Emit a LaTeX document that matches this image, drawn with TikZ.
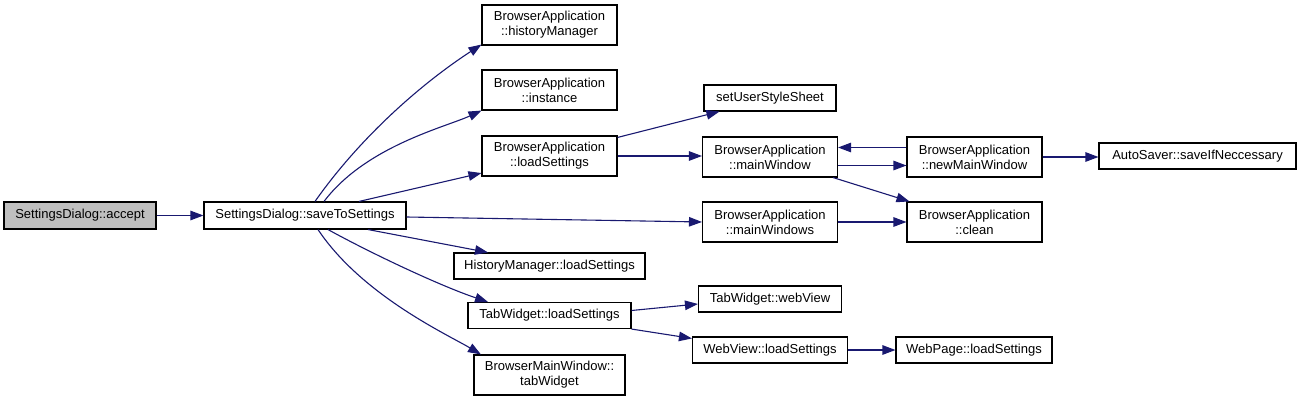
\documentclass[tikz,border=0pt]{standalone}
\usepackage{fontspec}
\setmainfont{Liberation Sans}
\usetikzlibrary{arrows.meta}
\definecolor{edgeblue}{HTML}{191970}
\definecolor{focusgray}{HTML}{BFBFBF}
\begin{document}
\begin{tikzpicture}[x=1pt,y=-1pt,
  box/.style={draw=black,line width=1.1pt,fill=white,inner sep=0pt,align=center,
    font=\fontsize{13}{15}\selectfont},
  onebox/.style={box,minimum height=26pt},
  twobox/.style={box,minimum height=40pt,minimum width=135pt},
  edge/.style={draw=edgeblue,line width=1.1pt,-{Triangle[length=13pt,width=9.5pt]}}]
\useasboundingbox (0,0) rectangle (1300,401);
% nodes
\node[onebox,fill=focusgray,minimum width=152pt,minimum height=27pt] (acc) at (80,215.5) {SettingsDialog::accept};
\node[onebox,minimum width=202pt,minimum height=27pt] (save) at (305,215.5) {SettingsDialog::saveToSettings};
\node[twobox] (hm) at (549.5,25) {BrowserApplication\\::historyManager};
\node[twobox] (inst) at (549.5,90) {BrowserApplication\\::instance};
\node[twobox] (ls) at (549.5,156) {BrowserApplication\\::loadSettings};
\node[onebox,minimum width=191pt] (hmls) at (549.5,266) {HistoryManager::loadSettings};
\node[onebox,minimum width=163pt] (twls) at (549.5,315.5) {TabWidget::loadSettings};
\node[twobox,minimum width=151pt] (bmw) at (549.5,375) {BrowserMainWindow::\\tabWidget};
\node[onebox,minimum width=132pt] (ssh) at (770,98) {setUserStyleSheet};
\node[twobox] (mw) at (770,157) {BrowserApplication\\::mainWindow};
\node[twobox] (nmw) at (974.5,157) {BrowserApplication\\::newMainWindow};
\node[twobox] (mws) at (770,222) {BrowserApplication\\::mainWindows};
\node[twobox] (clean) at (974.5,222) {BrowserApplication\\::clean};
\node[onebox,minimum width=197pt] (auto) at (1197.5,156) {AutoSaver::saveIfNeccessary};
\node[onebox,minimum width=143pt] (wv) at (770,299) {TabWidget::webView};
\node[onebox,minimum width=155pt] (wvls) at (770,350) {WebView::loadSettings};
\node[onebox,minimum width=156pt] (wpls) at (974,350) {WebPage::loadSettings};
% edges
\draw[edge] (acc) -- (save);
\draw[edge] ([xshift=10pt]save.north) .. controls (361,136) and (423,82.5) .. ([yshift=1pt]hm.south west);
\draw[edge] ([xshift=19pt]save.north) .. controls (366,146) and (446,127) .. (inst.south west);
\draw[edge] ([xshift=54pt]save.north) -- ([yshift=3.5pt]ls.south west);
\draw[edge] ([xshift=63pt]save.south) -- ([xshift=-61.5pt]hmls.north);
\draw[edge] ([xshift=23pt]save.south) .. controls (371.5,253.5) and (440.5,286) .. ([xshift=-61.5pt]twls.north);
\draw[edge] ([xshift=13pt]save.south) .. controls (362,295.4) and (447.6,334.6) .. ([xshift=7.5pt]bmw.north west);
\draw[edge] ([yshift=-1.5pt]save.east) -- (mws.west);
\draw[edge] ([yshift=-2pt]ls.north east) -- ([xshift=16pt]ssh.south west);
\draw[edge] (ls.east) -- (ls.east -| mw.west);
\draw[edge] ([yshift=9.5pt]nmw.west) -- ([yshift=9.5pt]mw.east);
\draw[edge] ([yshift=-8.5pt]mw.east) -- ([yshift=-8.5pt]nmw.west);
\draw[edge] ([xshift=-5pt]mw.south east) -- ([xshift=3pt]clean.north west);
\draw[edge] (mws) -- (clean);
\draw[edge] (nmw.east) -- (nmw.east -| auto.west);
\draw[edge] ([yshift=5pt]twls.east) -- ([yshift=-5pt]wv.west);
\draw[edge] (twls.south east) -- ([yshift=-2pt]wvls.north west);
\draw[edge] (wvls) -- (wpls);
\end{tikzpicture}
\end{document}
